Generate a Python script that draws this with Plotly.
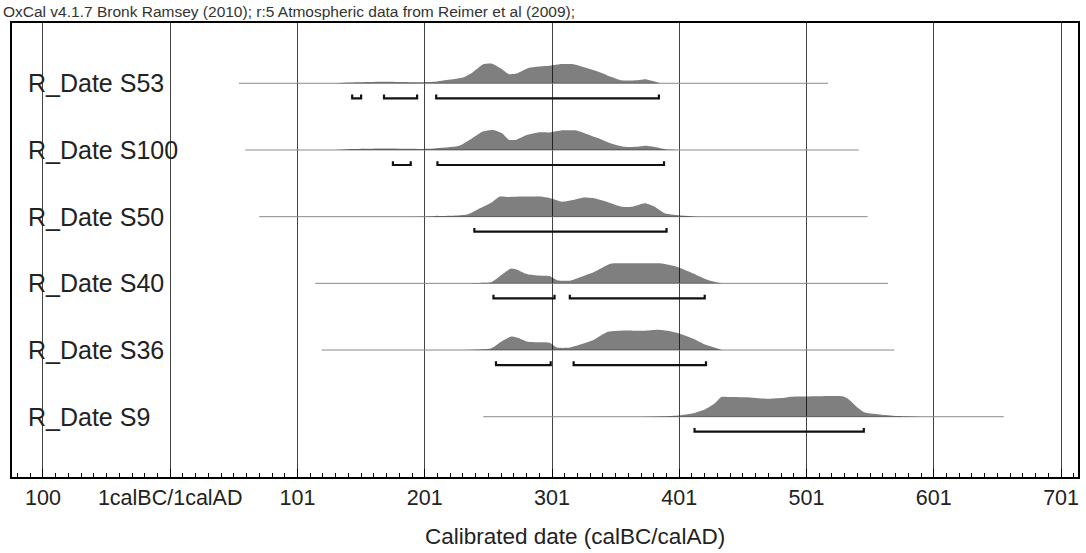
import plotly.graph_objects as go

# ---------------- data ----------------
NAMES = ["R_Date S53", "R_Date S100", "R_Date S50", "R_Date S40", "R_Date S36", "R_Date S9"]

# extent of the thin baseline for each date (calendar years, 0 = 1calBC/1calAD boundary)
LINE_START = [54, 59, 70, 114, 119, 246]
LINE_END = [517, 541, 548, 564, 569, 655]

# probability profiles (x in years, h relative to max)
S53_X = [130, 140, 168, 199, 207, 220, 230, 237, 246, 253, 259, 266, 272, 282, 298, 308, 316, 324, 337, 347, 354, 367, 373, 380, 385]
S53_H = [0, 0.04, 0.08, 0.05, 0.07, 0.18, 0.28, 0.5, 0.92, 0.95, 0.75, 0.45, 0.47, 0.75, 0.85, 0.93, 0.93, 0.8, 0.55, 0.3, 0.15, 0.15, 0.2, 0.1, 0]

S100_X = [130, 140, 170, 199, 207, 227, 237, 246, 254, 261, 266, 272, 280, 289, 298, 308, 318, 324, 337, 347, 357, 367, 373, 380, 389, 399]
S100_H = [0, 0.04, 0.07, 0.05, 0.07, 0.2, 0.55, 0.9, 0.97, 0.8, 0.5, 0.5, 0.72, 0.85, 0.85, 0.95, 0.95, 0.85, 0.55, 0.3, 0.15, 0.15, 0.2, 0.15, 0.03, 0]

S50_X = [190, 207, 233, 243, 253, 259, 266, 276, 291, 298, 308, 316, 324, 334, 344, 355, 363, 373, 380, 389, 399, 415]
S50_H = [0, 0.02, 0.1, 0.4, 0.7, 0.97, 0.95, 0.97, 0.97, 0.9, 0.72, 0.8, 0.92, 0.88, 0.7, 0.48, 0.48, 0.65, 0.5, 0.15, 0.07, 0]

S40_X = [230, 239, 252, 258, 268, 273, 280, 288, 298, 304, 314, 320, 333, 346, 359, 372, 385, 398, 410, 421, 431, 437]
S40_H = [0, 0.02, 0.05, 0.3, 0.72, 0.65, 0.45, 0.38, 0.35, 0.15, 0.13, 0.25, 0.55, 0.95, 0.97, 0.97, 0.97, 0.8, 0.5, 0.2, 0.03, 0]

S36_X = [230, 241, 252, 260, 268, 275, 281, 298, 304, 314, 324, 333, 344, 359, 372, 383, 392, 400, 411, 421, 431, 434]
S36_H = [0, 0.02, 0.07, 0.4, 0.65, 0.55, 0.4, 0.35, 0.12, 0.12, 0.3, 0.5, 0.88, 0.95, 0.93, 0.98, 0.92, 0.8, 0.55, 0.25, 0.05, 0]

S9_X = [370, 388, 400, 410, 420, 428, 433, 440, 455, 465, 472, 480, 488, 500, 529, 533, 540, 546, 559, 573, 590]
S9_H = [0, 0.02, 0.06, 0.15, 0.35, 0.65, 0.95, 0.95, 0.93, 0.88, 0.87, 0.9, 0.97, 0.98, 0.98, 0.85, 0.45, 0.2, 0.1, 0.03, 0]

PROFILE_X = [S53_X, S100_X, S50_X, S40_X, S36_X, S9_X]
PROFILE_H = [S53_H, S100_H, S50_H, S40_H, S36_H, S9_H]

# 95.4% ranges
RANGES = [
    [[143, 150], [168, 194], [209, 384]],
    [[175, 189], [210, 388]],
    [[239, 390]],
    [[254, 302], [314, 420]],
    [[256, 299], [317, 421]],
    [[412, 545]],
]

TICK_VALS = [-100, 0, 100, 200, 300, 400, 500, 600, 700]
TICK_TEXT = ["100", "1calBC/1calAD", "101", "201", "301", "401", "501", "601", "701"]

X_TITLE = "Calibrated date (calBC/calAD)"
NOTE = "OxCal v4.1.7 Bronk Ramsey (2010); r:5 Atmospheric data from Reimer et al (2009);"

# ---------------- style ----------------
FONT = "Liberation Sans, Arial, sans-serif"
HSCALE = 0.31      # height of max probability in row units
BR_OFF = 0.225     # bracket offset below baseline
BR_TICK = 0.055    # bracket end tick height

fig = go.Figure()
n = len(NAMES)
for i, name in enumerate(NAMES):
    y0 = n - 1 - i
    # baseline
    fig.add_trace(go.Scatter(x=[LINE_START[i], LINE_END[i]], y=[y0, y0], mode="lines",
                             line=dict(color="#8a8a8a", width=1), hoverinfo="skip", showlegend=False))
    # distribution
    fig.add_trace(go.Scatter(x=PROFILE_X[i], y=[y0 + HSCALE * h for h in PROFILE_H[i]],
                             mode="lines", fill="toself", fillcolor="rgba(0,0,0,0.5)",
                             line=dict(width=0, color="rgba(0,0,0,0)", shape="spline", smoothing=0.6),
                             hoverinfo="skip", showlegend=False))
    # ranges
    bx, by = [], []
    yb = y0 - BR_OFF
    for a, b in RANGES[i]:
        bx += [a, a, b, b, None]
        by += [yb + BR_TICK, yb, yb, yb + BR_TICK, None]
    fig.add_trace(go.Scatter(x=bx, y=by, mode="lines", line=dict(color="#111", width=2.2),
                             hoverinfo="skip", showlegend=False))
    fig.add_annotation(text=name, xref="paper", yref="y", x=0, y=y0, xshift=14,
                       xanchor="left", yanchor="middle", showarrow=False,
                       font=dict(family=FONT, size=25, color="#222"))

fig.add_annotation(text=X_TITLE, xref="x", yref="paper", x=318, y=0, yshift=-59,
                   xanchor="center", yanchor="middle", showarrow=False,
                   font=dict(family=FONT, size=22.5, color="#222"))
fig.add_annotation(text=NOTE, xref="paper", yref="paper", x=0, y=1, xshift=-11, yshift=1,
                   xanchor="left", yanchor="bottom", showarrow=False,
                   font=dict(family=FONT, size=15.5, color="#333"))

fig.update_layout(
    width=1086, height=553,
    margin=dict(l=12, r=6, t=23, b=76),
    paper_bgcolor="white", plot_bgcolor="white",
    xaxis=dict(range=[-124.3, 713.3], tickmode="array", tickvals=TICK_VALS, ticktext=TICK_TEXT,
               showgrid=True, gridcolor="#444", gridwidth=1, zeroline=False,
               ticks="inside", ticklen=8, tickcolor="#000", tickwidth=1,
               showline=True, mirror=True, linecolor="#000", linewidth=2,
               tickfont=dict(family=FONT, size=21.5, color="#222"),
               minor=dict(tick0=0, dtick=10, ticks="inside", ticklen=4, tickcolor="#000", showgrid=False),
               layer="above traces"),
    yaxis=dict(range=[-0.904, 5.904], showticklabels=False, showgrid=False, zeroline=False,
               showline=True, mirror=True, linecolor="#000", linewidth=2, ticks=""),
)

fig.write_html("out.html")
